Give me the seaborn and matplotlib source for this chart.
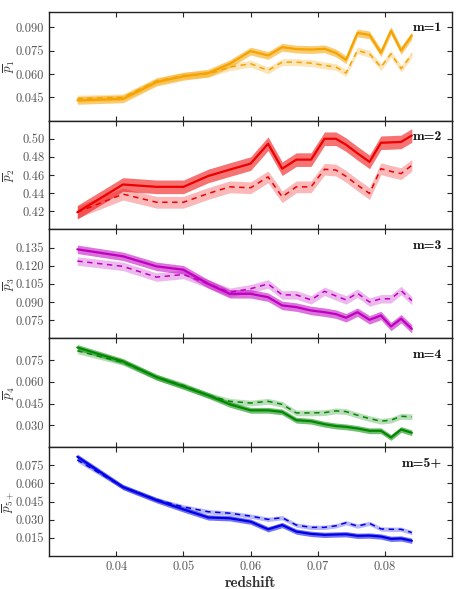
import numpy as np
import pandas as pd
import matplotlib
matplotlib.use("Agg")
import matplotlib.pyplot as plt
import seaborn as sns

# bin centres in redshift, shared by every panel
redshift = [0.0342, 0.0410, 0.0460, 0.0500, 0.0537, 0.0569, 0.0600, 0.0626, 0.0647, 0.0668,
            0.0690, 0.0710, 0.0727, 0.0742, 0.0759, 0.0777, 0.0794, 0.0809, 0.0824, 0.0840]

# solid = full sample, dashed = comparison sample
p1_solid = [0.0430, 0.0440, 0.0548, 0.0585, 0.0606, 0.0666, 0.0747, 0.0719, 0.0772, 0.0760,
            0.0757, 0.0762, 0.0735, 0.0691, 0.0864, 0.0851, 0.0736, 0.0879, 0.0751, 0.0847]
p1_dash = [0.0442, 0.0450, 0.0555, 0.0590, 0.0600, 0.0644, 0.0666, 0.0623, 0.0676, 0.0676,
           0.0670, 0.0655, 0.0645, 0.0606, 0.0751, 0.0730, 0.0644, 0.0730, 0.0634, 0.0725]

p2_solid = [0.419, 0.4496, 0.447, 0.447, 0.459, 0.466, 0.4726, 0.4945, 0.467, 0.477,
            0.477, 0.500, 0.500, 0.4935, 0.484, 0.4745, 0.4956, 0.4960, 0.4965, 0.5036]
p2_dash = [0.419, 0.439, 0.430, 0.430, 0.4397, 0.447, 0.446, 0.458, 0.436, 0.447,
           0.447, 0.4664, 0.4655, 0.4586, 0.449, 0.4397, 0.467, 0.464, 0.4616, 0.4707]

p3_solid = [0.1336, 0.1278, 0.1195, 0.1167, 0.105, 0.0968, 0.0968, 0.094, 0.0872, 0.0858,
            0.083, 0.0816, 0.080, 0.077, 0.0816, 0.0753, 0.0789, 0.0698, 0.0762, 0.0678]
p3_dash = [0.1239, 0.1195, 0.1106, 0.1128, 0.105, 0.0981, 0.101, 0.105, 0.0959, 0.0959,
           0.0918, 0.0989, 0.095, 0.0918, 0.0973, 0.090, 0.0927, 0.0927, 0.0995, 0.0912]

p4_solid = [0.0837, 0.0741, 0.0632, 0.0568, 0.0507, 0.0445, 0.0404, 0.0404, 0.0393, 0.0336,
            0.0329, 0.0308, 0.0296, 0.0290, 0.0279, 0.0263, 0.0263, 0.0217, 0.0272, 0.0249]
p4_dash = [0.0814, 0.0734, 0.0632, 0.0575, 0.0507, 0.0466, 0.0454, 0.0466, 0.0445, 0.0386,
           0.0386, 0.0388, 0.0400, 0.0395, 0.0370, 0.0347, 0.0329, 0.0336, 0.0363, 0.0359]

p5_solid = [0.0821, 0.0570, 0.0461, 0.0385, 0.0319, 0.0312, 0.0284, 0.0221, 0.0256, 0.0202,
            0.0183, 0.0175, 0.0178, 0.0180, 0.0167, 0.0169, 0.0161, 0.0142, 0.0145, 0.0126]
p5_dash = [0.0794, 0.0570, 0.0466, 0.0406, 0.0366, 0.0354, 0.0330, 0.0303, 0.0317, 0.0256,
           0.0237, 0.0237, 0.0250, 0.0275, 0.0248, 0.0270, 0.0224, 0.0221, 0.0221, 0.0194]

# half widths of the shaded bands (solid, dashed)
band_solid = [0.0025, 0.0075, 0.0035, 0.0020, 0.0022]
band_dash = [0.0022, 0.0065, 0.0035, 0.0020, 0.0018]

panel_names = ["m=1", "m=2", "m=3", "m=4", "m=5+"]
ylabels = [r"$\overline{p}_1$", r"$\overline{p}_2$", r"$\overline{p}_3$",
           r"$\overline{p}_4$", r"$\overline{p}_{5+}$"]
colors = ["#f5a300", "#ee0000", "#c000c0", "#008800", "#0000e6"]
ylims = [(0.03, 0.10), (0.40, 0.52), (0.06, 0.15), (0.015, 0.09), (0.0, 0.09)]
yticks = [[0.045, 0.060, 0.075, 0.090],
          [0.42, 0.44, 0.46, 0.48, 0.50],
          [0.075, 0.090, 0.105, 0.120, 0.135],
          [0.030, 0.045, 0.060, 0.075],
          [0.015, 0.030, 0.045, 0.060, 0.075]]
yfmt = ["{:.3f}", "{:.2f}", "{:.3f}", "{:.3f}", "{:.3f}"]

solids = [p1_solid, p2_solid, p3_solid, p4_solid, p5_solid]
dashes = [p1_dash, p2_dash, p3_dash, p4_dash, p5_dash]

sns.set_style("ticks")
plt.rcParams["font.family"] = "serif"
plt.rcParams["font.serif"] = ["cmr10", "DejaVu Serif"]
plt.rcParams["mathtext.fontset"] = "cm"
plt.rcParams["axes.formatter.use_mathtext"] = True
plt.rcParams["axes.unicode_minus"] = False

fig, axes = plt.subplots(5, 1, figsize=(4.59, 5.89), dpi=100, sharex=True)
fig.subplots_adjust(left=0.107, right=0.985, top=0.980, bottom=0.056, hspace=0)

z = np.array(redshift)
for i, ax in enumerate(axes):
    df = pd.DataFrame({"redshift": redshift, "solid": solids[i], "dash": dashes[i]})
    c = colors[i]
    ax.fill_between(z, np.array(dashes[i]) - band_dash[i], np.array(dashes[i]) + band_dash[i],
                    color=c, alpha=0.28, lw=0)
    ax.fill_between(z, np.array(solids[i]) - band_solid[i], np.array(solids[i]) + band_solid[i],
                    color=c, alpha=0.55, lw=0)
    sns.lineplot(data=df, x="redshift", y="dash", ax=ax, color=c, lw=1.1, ls=(0, (3.5, 3)))
    sns.lineplot(data=df, x="redshift", y="solid", ax=ax, color=c, lw=1.6)

    ax.set_xlim(0.03, 0.09)
    ax.set_ylim(*ylims[i])
    ax.set_yticks(yticks[i])
    ax.set_yticklabels([yfmt[i].format(v) for v in yticks[i]])
    ax.set_xticks([0.04, 0.05, 0.06, 0.07, 0.08])
    ax.set_xticklabels(["0.04", "0.05", "0.06", "0.07", "0.08"])
    ax.tick_params(direction="in", top=True, right=True, length=3.5, width=0.8,
                   labelsize=9, labelcolor="#555555")
    ax.set_ylabel(ylabels[i], fontsize=9.5, color="#333333")
    ax.yaxis.set_label_coords(-0.08, 0.5)
    ax.set_xlabel("")
    for s in ax.spines.values():
        s.set_linewidth(1.0)
        s.set_color("#222222")
    ax.text(0.975, 0.85, panel_names[i], transform=ax.transAxes, ha="right", va="center",
            fontsize=10, family="cmb10", color="#111111")

axes[-1].set_xlabel("redshift", fontsize=11, family="cmb10", color="#333333", labelpad=2)

fig.savefig("out.png", dpi=100)
